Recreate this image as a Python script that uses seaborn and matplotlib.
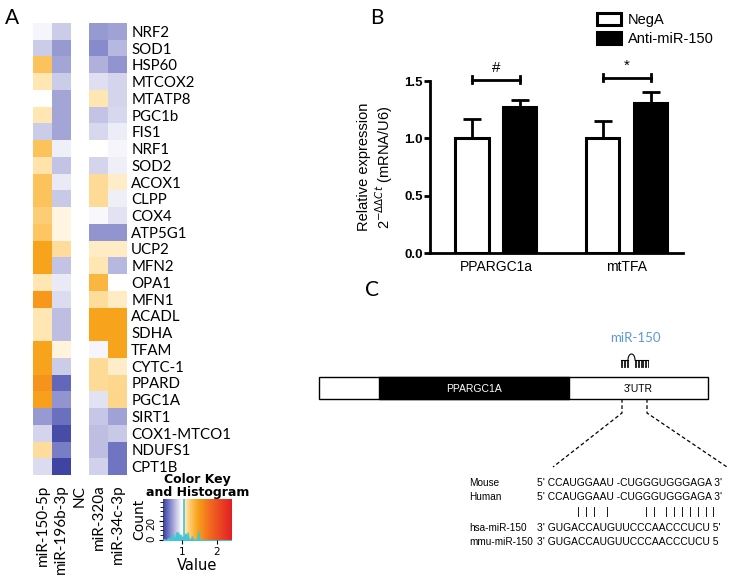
import numpy as np
import pandas as pd
import matplotlib
matplotlib.use('Agg')
import matplotlib.pyplot as plt
import seaborn as sns
from matplotlib.colors import LinearSegmentedColormap
from matplotlib.patches import Rectangle

genes = ['NRF2', 'SOD1', 'HSP60', 'MTCOX2', 'MTATP8', 'PGC1b', 'FIS1', 'NRF1', 'SOD2',
         'ACOX1', 'CLPP', 'COX4', 'ATP5G1', 'UCP2', 'MFN2', 'OPA1', 'MFN1', 'ACADL',
         'SDHA', 'TFAM', 'CYTC-1', 'PPARD', 'PGC1A', 'SIRT1', 'COX1-MTCO1', 'NDUFS1', 'CPT1B']
mir150 = [0.97, 0.86, 1.28, 1.10, 1.00, 1.10, 0.86, 1.28, 1.12, 1.28, 1.28, 1.22, 1.26, 1.45,
          1.45, 1.10, 1.52, 1.10, 1.10, 1.45, 1.45, 1.55, 1.47, 0.72, 0.88, 1.15, 0.90]
mir196b = [0.86, 0.72, 0.75, 0.86, 0.75, 0.75, 0.75, 0.96, 0.83, 0.94, 0.85, 1.04, 1.04, 1.15,
           0.83, 0.94, 0.90, 0.82, 0.82, 1.05, 0.86, 0.58, 0.70, 0.60, 0.50, 0.64, 0.48]
mir320a = [0.72, 0.68, 0.78, 0.91, 1.10, 0.83, 0.89, 1.00, 0.88, 1.16, 1.16, 0.98, 0.70, 1.08,
           1.10, 1.35, 1.15, 1.45, 1.45, 0.97, 1.16, 1.16, 0.92, 0.84, 0.82, 0.82, 0.87]
mir34c = [0.74, 0.80, 0.70, 0.88, 0.88, 0.89, 0.95, 0.97, 0.96, 1.07, 0.96, 0.92, 0.70, 1.08,
          0.80, 1.00, 1.08, 1.45, 1.45, 1.45, 1.07, 1.17, 1.18, 0.74, 0.85, 0.62, 0.62]

# ---- panel B data ----
b_genes = ['PPARGC1a', 'mtTFA']
b_groups = ['NegA', 'Anti-miR-150']
b_mean = {'NegA': [1.00, 1.00], 'Anti-miR-150': [1.27, 1.31]}
b_err = {'NegA': [0.17, 0.155], 'Anti-miR-150': [0.06, 0.09]}
b_marks = ['#', '*']

# ---- panel C text ----
seq_names = ['Mouse', 'Human', 'hsa-miR-150', 'mmu-miR-150']
seqs = ["5' CCAUGGAAU -CUGGGUGGGAGA 3'", "5' CCAUGGAAU -CUGGGUGGGAGA 3'",
        "3' GUGACCAUGUUCCCAACCCUCU 5'", "3' GUGACCAUGUUCCCAACCCUCU 5"]

W, H = 731, 579
fig = plt.figure(figsize=(W / 100, H / 100), dpi=100)


def px_axes(x0, y0, x1, y1):
    return fig.add_axes([x0 / W, 1 - y1 / H, (x1 - x0) / W, (y1 - y0) / H])


cmap = LinearSegmentedColormap.from_list('key', [
    (0.0, '#3a3f9e'), (0.07, '#6a6fbe'), (0.15, '#a7a8d8'), (0.223, '#dcdcf0'),
    (0.274, '#ffffff'), (0.325, '#ffe6b4'), (0.40, '#fdc766'), (0.503, '#f8a31b'),
    (0.68, '#f26a21'), (1.0, '#e31e24')])
vmin, vmax = 0.46, 2.43

hm = pd.DataFrame({'miR-150-5p': mir150, 'miR-196b-3p': mir196b, 'NC': np.nan,
                   'miR-320a': mir320a, 'miR-34c-3p': mir34c}, index=genes)

sans_a = ['Lato', 'DejaVu Sans']
arial = 'Liberation Sans'
ax = px_axes(33, 23, 127, 475)
sns.heatmap(hm, cmap=cmap, vmin=vmin, vmax=vmax, cbar=False, ax=ax,
            xticklabels=True, yticklabels=True)
ax.yaxis.tick_right()
ax.tick_params(axis='y', length=0, labelsize=10.8, pad=3)
ax.tick_params(axis='x', length=0, labelsize=11, pad=7)
for t in ax.get_yticklabels():
    t.set_rotation(0)
    t.set_family(sans_a)
for t in ax.get_xticklabels():
    t.set_rotation(90)
    t.set_family(sans_a)
ax.set_xlabel('')
ax.set_ylabel('')

# colour key with histogram
kax = px_axes(163, 499, 232, 540)
grad = np.linspace(vmin, vmax, 256)[None, :]
kax.imshow(grad, cmap=cmap, vmin=vmin, vmax=vmax, aspect='auto',
           extent=[vmin, vmax, 0, 43], origin='lower')
all_vals = np.array(mir150 + mir196b + mir320a + mir34c)
sns.histplot(all_vals, bins=np.arange(vmin, vmax, 0.03), element='poly', fill=True,
             color='#45c4d4', alpha=1, linewidth=0.8, ax=kax)
kax.axvline(1.05, color='#45c4d4', lw=1.2)
kax.set_xlim(vmin, vmax)
kax.set_ylim(0, 43)
kax.set_xticks([1, 2])
kax.set_yticks([0, 20])
kax.set_yticks(range(0, 43, 5), minor=True)
kax.tick_params(labelsize=7.5, length=3, pad=2)
kax.tick_params(axis='y', labelrotation=90)
kax.set_xlabel('Value', fontsize=10.5, labelpad=1)
kax.set_ylabel('Count', fontsize=10, labelpad=0)
kax.set_title('Color Key\nand Histogram', fontsize=9, fontweight='bold', pad=1,
              linespacing=0.95)
for s in kax.spines.values():
    s.set_visible(False)

# ---- panel B ----
bdf = pd.DataFrame([(g, grp, b_mean[grp][i]) for grp in b_groups
                    for i, g in enumerate(b_genes)], columns=['gene', 'group', 'value'])
bax = px_axes(430, 81, 683, 253)
sns.barplot(data=bdf, x='gene', y='value', hue='group', hue_order=b_groups,
            palette={'NegA': 'white', 'Anti-miR-150': 'black'}, edgecolor='black',
            linewidth=2.2, width=0.733, gap=0.31, errorbar=None, ax=bax)
centers = {}
for grp, cont in zip(b_groups, bax.containers):
    xs = [b.get_x() + b.get_width() / 2 for b in cont]
    tops = [b.get_height() for b in cont]
    centers[grp] = xs
    bax.errorbar(xs, tops, yerr=[np.zeros(len(xs)), b_err[grp]], fmt='none',
                 ecolor='black', elinewidth=2, capsize=6.5, capthick=2, zorder=1)
for i, mark in enumerate(b_marks):
    x1, x2 = centers['NegA'][i], centers['Anti-miR-150'][i]
    yb = 1.51 + 0.02 * i
    bax.plot([x1, x2], [yb, yb], color='black', lw=2, clip_on=False)
    for xx in (x1, x2):
        bax.plot([xx, xx], [yb - 0.03, yb + 0.03], color='black', lw=2, clip_on=False)
    bax.text((x1 + x2) / 2, yb + 0.045, mark, ha='center', va='bottom', fontsize=11,
             family=arial)
bax.set_ylim(0, 1.5)
bax.set_xlim(-0.504, 1.43)
bax.set_yticks([0, 0.5, 1.0, 1.5])
bax.set_yticklabels(['0.0', '0.5', '1.0', '1.5'], fontweight='bold', fontsize=9.5,
                    family=arial)
for t in bax.get_xticklabels():
    t.set_family(arial)
    t.set_fontsize(10)
bax.tick_params(axis='y', width=2, length=4, pad=1)
bax.tick_params(axis='x', length=0, pad=5)
for s in ['top', 'right']:
    bax.spines[s].set_visible(False)
for s in ['left', 'bottom']:
    bax.spines[s].set_linewidth(2)
bax.set_xlabel('')
bax.set_ylabel('Relative expression\n2$^{-\\Delta\\Delta Ct}$ (mRNA/U6)', fontsize=10.5,
               family=arial, labelpad=7, linespacing=1.1)
handles, labels = bax.get_legend_handles_labels()
bax.legend(handles, labels, frameon=False, loc='upper left',
           bbox_to_anchor=(590 / W, 1 - 6 / H), bbox_transform=fig.transFigure,
           prop={'family': arial, 'size': 10.5}, handlelength=1.6,
           handleheight=0.9, handletextpad=0.5, labelspacing=0.3, borderpad=0)

# ---- panel C: schematic ----
cax = px_axes(318, 300, 731, 579)
cax.set_xlim(318, 731)
cax.set_ylim(579, 300)
cax.axis('off')
cax.add_patch(Rectangle((319, 377), 389, 22, facecolor='white', edgecolor='black', lw=1))
cax.add_patch(Rectangle((379, 377), 190, 22, facecolor='black', edgecolor='black', lw=1))
cax.text(474, 388.5, 'PPARGC1A', color='white', ha='center', va='center', fontsize=7.5,
         family=arial)
cax.text(638, 388.5, "3'UTR", color='black', ha='center', va='center', fontsize=7.5,
         family=arial)
cax.text(635, 338, 'miR-150', color='#5b9bd5', ha='center', va='center', fontsize=9.5,
         family=sans_a)
# hairpin glyph
for xx in np.arange(621, 629, 1.4):
    cax.plot([xx, xx], [360, 367], color='black', lw=0.6)
for xx in np.arange(635, 648, 1.4):
    cax.plot([xx, xx], [360, 367], color='black', lw=0.6)
tt = np.linspace(0, np.pi, 30)
cax.plot(631.5 - 3.5 * np.cos(tt), 360 - 6 * np.sin(tt), color='black', lw=0.8)
cax.plot([621, 628], [360, 360], color='black', lw=0.8)
cax.plot([635, 648], [360, 360], color='black', lw=0.8)
dash = (0, (3, 2))
cax.plot([622, 622, 553], [399, 413, 467], color='black', lw=0.9, ls=dash)
cax.plot([647, 647, 727], [399, 413, 467], color='black', lw=0.9, ls=dash)

rows_y = [483, 497, 528, 542]
for name, s, yy in zip(seq_names, seqs, rows_y):
    cax.text(469, yy, name, ha='left', va='center', fontsize=7.2, family=arial)
    cax.text(537, yy, s, ha='left', va='center', fontsize=7.4, family=arial)
for xx in [578, 586, 594, 607, 646, 654, 666, 674, 682, 690, 698, 706, 713]:
    cax.text(xx, 512, '|', ha='center', va='center', fontsize=8, family=arial)

letters = {'A': (5, 18), 'B': (370, 18), 'C': (365, 290)}
for k, (xx, yy) in letters.items():
    fig.text(xx / W, 1 - yy / H, k, fontsize=15, family=sans_a, va='center', ha='left')

fig.savefig('out.png', dpi=100)
